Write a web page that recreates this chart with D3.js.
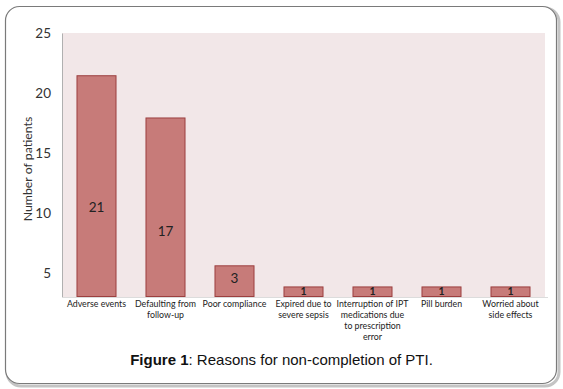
<!DOCTYPE html>
<html>
<head>
<meta charset="utf-8">
<script src="https://cdn.jsdelivr.net/npm/d3@7"></script>
<style>
  body { margin: 0; background: #fff; }
  svg { display: block; }
</style>
</head>
<body>
<div id="chart"></div>
<script>
'use strict';

const categories = [
  'Adverse events',
  'Defaulting from|follow-up',
  'Poor compliance',
  'Expired due to|severe sepsis',
  'Interruption of IPT|medications due|to prescription|error',
  'Pill burden',
  'Worried about|side effects'
];
const patients = [21, 17, 3, 1, 1, 1, 1];
const tickValues = [5, 10, 15, 20, 25];

const W = 563, H = 389;
const margin = {top: 33, right: 18, bottom: 92, left: 62};
const width = 545 - margin.left,
    height = 297 - margin.top;

const svg = d3.select('#chart')
  .append('svg')
    .attr('width', W)
    .attr('height', H);

// frame with shadow
svg.append('rect')
    .attr('x', 7).attr('y', 8)
    .attr('width', 552).attr('height', 378)
    .attr('rx', 14)
    .attr('fill', 'none')
    .attr('stroke', '#c4c4c4')
    .attr('stroke-width', 3);
svg.append('rect')
    .attr('x', 5.5).attr('y', 6.5)
    .attr('width', 551).attr('height', 377)
    .attr('rx', 14)
    .attr('fill', '#fff')
    .attr('stroke', '#7a7a7a')
    .attr('stroke-width', 1.2);

const g = svg.append('g')
    .attr('transform', `translate(${margin.left},${margin.top})`);

g.append('rect')
    .attr('width', width)
    .attr('height', height)
    .attr('fill', '#f2e7e8');

const x = d3.scaleBand()
  .domain(categories)
  .range([0, width])
  .paddingInner(0.42)
  .paddingOuter(0.21);

// bars use a zero-based scale, the printed ticks sit on an offset one
const y = d3.scaleLinear().domain([0, 25]).range([height, 0]);
const yTicks = d3.scaleLinear().domain([3, 25]).range([height, 0]);

const yAxis = g.append('g')
    .call(d3.axisLeft(yTicks).tickValues(tickValues).tickSize(0).tickPadding(11));
yAxis.select('.domain').attr('stroke', '#b0b0b0');
yAxis.selectAll('text')
    .attr('font-family', 'Lato, "Open Sans", sans-serif')
    .attr('font-size', 13.5)
    .attr('fill', '#333');

g.append('line')
    .attr('x1', 0).attr('x2', width + 3)
    .attr('y1', height + 0.5).attr('y2', height + 0.5)
    .attr('stroke', '#dcdcdc');

g.selectAll('.bar')
  .data(patients)
  .join('rect')
    .attr('class', 'bar')
    .attr('x', (d, i) => x(categories[i]) + 0.5)
    .attr('y', d => y(d) + 0.5)
    .attr('width', x.bandwidth() - 1)
    .attr('height', d => height - y(d) - 1)
    .attr('fill', '#c77b79')
    .attr('stroke', '#9c3f3f')
    .attr('stroke-width', 1);

// value labels sit at half value on the tick scale, or mid-bar when that falls off
g.selectAll('.val')
  .data(patients)
  .join('text')
    .attr('class', 'val')
    .attr('x', (d, i) => x(categories[i]) + x.bandwidth() / 2)
    .attr('y', d => {
      const t = yTicks(d / 2);
      return t < height - 10 ? t : (y(d) + height) / 2 - (d > 1 ? 3 : 0);
    })
    .attr('dy', '0.35em')
    .attr('text-anchor', 'middle')
    .attr('font-family', 'Lato, "Open Sans", sans-serif')
    .attr('font-size', d => d > 1 ? 13.5 : 10.5)
    .attr('font-weight', d => d > 1 ? 'normal' : 'bold')
    .attr('fill', '#222')
    .text(d => d);

// category labels, wrapped on |
const cat = g.selectAll('.cat')
  .data(categories)
  .join('text')
    .attr('class', 'cat')
    .attr('x', d => x(d) + x.bandwidth() / 2)
    .attr('y', height + 7)
    .attr('text-anchor', 'middle')
    .attr('font-family', 'Lato, "Open Sans", sans-serif')
    .attr('font-size', 8.8)
    .attr('fill', '#222');
cat.each(function(d) {
  const t = d3.select(this);
  d.split('|').forEach((line, i) => {
    t.append('tspan')
      .attr('x', x(d) + x.bandwidth() / 2)
      .attr('dy', i === 0 ? '0.3em' : 11)
      .text(line);
  });
});

svg.append('text')
    .attr('transform', `translate(32,${margin.top + height / 2 + 4}) rotate(-90)`)
    .attr('text-anchor', 'middle')
    .attr('font-family', 'Lato, "Open Sans", sans-serif')
    .attr('font-size', 12.3)
    .attr('fill', '#333')
    .text('Number of patients');

const cap = svg.append('text')
    .attr('x', W / 2)
    .attr('y', 365)
    .attr('text-anchor', 'middle')
    .attr('font-family', '"Liberation Sans", Arial, sans-serif')
    .attr('font-size', 15)
    .attr('fill', '#111');
cap.append('tspan').attr('font-weight', 'bold').text('Figure 1');
cap.append('tspan').text(': Reasons for non-completion of PTI.');
</script>
</body>
</html>
